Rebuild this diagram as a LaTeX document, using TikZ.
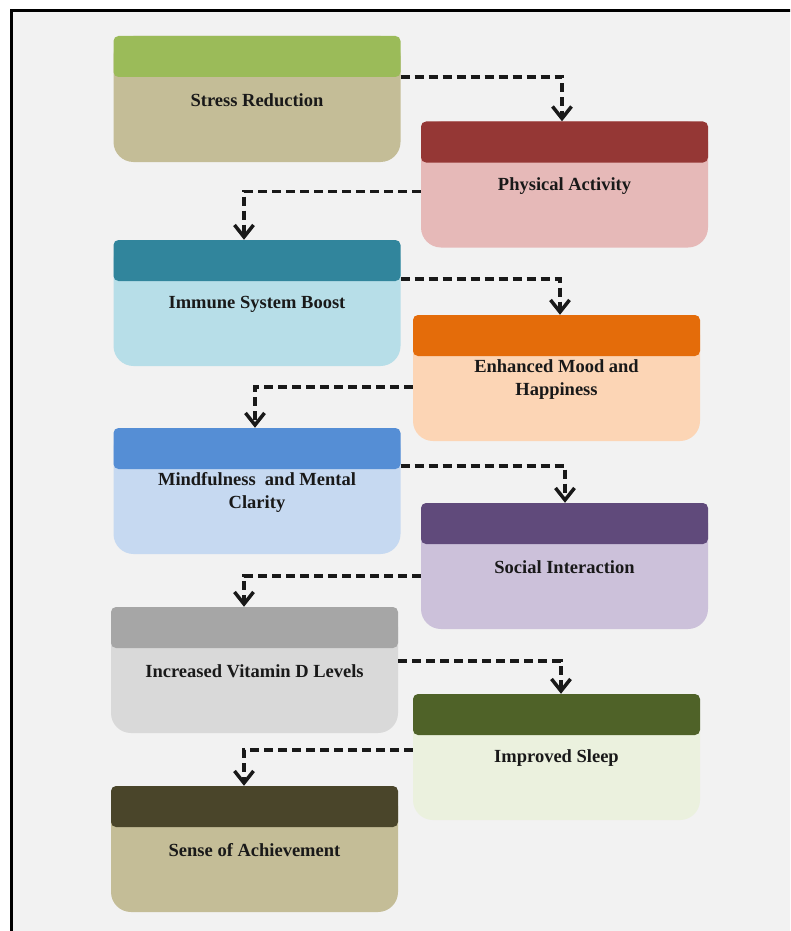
\documentclass[tikz,border=0pt]{standalone}
\usepackage{fontspec}
\setmainfont{Liberation Serif}
\usepackage{tikz}
\usetikzlibrary{calc}
\usetikzlibrary{arrows.meta}
\usetikzlibrary{positioning}
\definecolor{pagegray}{HTML}{F2F2F2}
\tikzset{body/.style={rectangle,rounded corners=20pt,minimum width=287pt,minimum height=126pt,inner sep=0pt}}
\tikzset{head/.style={rectangle,rounded corners=5pt,anchor=north,minimum width=287pt,minimum height=41pt,inner sep=0pt}}
\tikzset{caption/.style={align=center,inner sep=0pt,font=\fontsize{18.5}{23}\selectfont\bfseries,text=black!90}}
\tikzset{flow/.style={line width=3.5pt,dash pattern=on 9pt off 5pt,draw=black!90,-{Straight Barb[length=12pt,width=19pt,line width=3.5pt]}}}

\begin{document}
\begin{tikzpicture}[x=1pt,y=-1pt]
    \clip (0,0) rectangle (790,931);
    \useasboundingbox (0,0) rectangle (790,931);
    \fill[white] (0,0) rectangle (790,931);
    \draw[line width=3pt,fill=pagegray] (11,11) rectangle (900,1000);
    % boxes
    \node[body, fill={rgb,255:red,196;green,189;blue,151}] (sr) at (257,99) {};
    \node[body, fill={rgb,255:red,230;green,185;blue,184}] (pa) at (564.5,184.5) {};
    \node[body, fill={rgb,255:red,183;green,222;blue,232}] (ib) at (257,303) {};
    \node[body, fill={rgb,255:red,252;green,213;blue,181}] (em) at (556.5,378) {};
    \node[body, fill={rgb,255:red,198;green,217;blue,241}] (mc) at (257,491) {};
    \node[body, fill={rgb,255:red,204;green,193;blue,218}] (si) at (564.5,566) {};
    \node[body, fill={rgb,255:red,217;green,217;blue,217}] (vd) at (254.5,670) {};
    \node[body, fill={rgb,255:red,235;green,241;blue,222}] (sl) at (556.5,757) {};
    \node[body, fill={rgb,255:red,196;green,189;blue,151}] (sa) at (254.5,849) {};
    % headers
    \node[head, fill={rgb,255:red,155;green,187;blue,89}] (srH) at (sr.north) {};
    \node[head, fill={rgb,255:red,149;green,55;blue,53}] (paH) at (pa.north) {};
    \node[head, fill={rgb,255:red,49;green,133;blue,156}] (ibH) at (ib.north) {};
    \node[head, fill={rgb,255:red,228;green,108;blue,10}] (emH) at (em.north) {};
    \node[head, fill={rgb,255:red,85;green,142;blue,213}] (mcH) at (mc.north) {};
    \node[head, fill={rgb,255:red,96;green,74;blue,123}] (siH) at (si.north) {};
    \node[head, fill={rgb,255:red,166;green,166;blue,166}] (vdH) at (vd.north) {};
    \node[head, fill={rgb,255:red,79;green,98;blue,40}] (slH) at (sl.north) {};
    \node[head, fill={rgb,255:red,74;green,69;blue,42}] (saH) at (sa.north) {};
    % texts
    \node[caption] (srT) at ([yshift=-23pt]srH.south) {Stress Reduction};
    \node[caption] (paT) at ([yshift=-23pt]paH.south) {Physical Activity};
    \node[caption] (ibT) at ([yshift=-23pt]ibH.south) {Immune System Boost};
    \node[caption] (emT) at ([yshift=-23.5pt]emH.south) {Enhanced Mood and\\Happiness};
    \node[caption] (mcT) at ([yshift=-23.5pt]mcH.south) {Mindfulness\ \ and Mental\\Clarity};
    \node[caption] (siT) at ([yshift=-23pt]siH.south) {Social Interaction};
    \node[caption] (vdT) at ([yshift=-23pt]vdH.south) {Increased Vitamin D Levels};
    \node[caption] (slT) at ([yshift=-23pt]slH.south) {Improved Sleep};
    \node[caption] (saT) at ([yshift=-23pt]saH.south) {Sense of Achievement};
    % connectors
    \draw[flow] ([yshift=-41pt]sr.north east) -| ([xshift=-2.5pt]pa.north);
    \draw[flow] ([yshift=-70pt]pa.north west) -| ([xshift=-13pt]ib.north);
    \draw[flow] ([yshift=-39pt]ib.north east) -| ([xshift=3.5pt]em.north);
    \draw[flow] ([yshift=-72pt]em.north west) -| ([xshift=-2pt]mc.north);
    \draw[flow] ([yshift=-38pt]mc.north east) -| ([xshift=0.5pt]si.north);
    \draw[flow] ([yshift=-73pt]si.north west) -| ([xshift=-10.5pt]vd.north);
    \draw[flow] ([yshift=-54pt]vd.north east) -| ([xshift=4.5pt]sl.north);
    \draw[flow] ([yshift=-56pt]sl.north west) -| ([xshift=-10.5pt]sa.north);
\end{tikzpicture}
\end{document}
